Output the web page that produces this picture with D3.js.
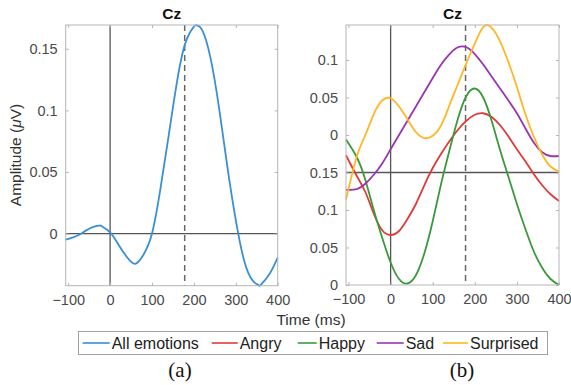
<!DOCTYPE html>
<html>
<head>
  <meta charset="utf-8">
  <title>Cz ERP by emotion</title>
  <style>
    body { margin: 0; background: white; }
    .tick-label { font-family: "Liberation Sans", Arial, sans-serif; font-size: 14.5px; fill: #4a4a4a; }
    .title { font-family: "Liberation Sans", Arial, sans-serif; font-size: 15.5px; font-weight: bold; fill: #111; text-anchor: middle; }
    .axis-label { font-family: "Liberation Sans", Arial, sans-serif; font-size: 15.5px; fill: #333; text-anchor: middle; }
    .legend-text { font-family: "Liberation Sans", Arial, sans-serif; font-size: 16px; fill: #222; }
    .panel-tag { font-family: "Liberation Serif", "Times New Roman", serif; font-size: 21px; fill: #111; text-anchor: middle; }
  </style>
  <script src="https://d3js.org/d3.v7.min.js"></script>
</head>
<body>
<div id="chart"></div>
<script>
// x ticks shared by both panels
const xTicks = [-100, 0, 100, 200, 300, 400];
const stimLine = 178;   // dashed marker (ms)

// panel (a): grand average
const leftTimes  = [-106, -80, -60, -40, -25, -20, 0, 20, 40, 60, 80, 100, 120, 140, 160, 180, 200, 206, 220, 240, 260, 280, 300, 320, 340, 355, 360, 380, 400];
const allEmotions = [-0.005, -0.002, 0.002, 0.0055, 0.0065, 0.006, 0.001, -0.009, -0.019, -0.0245, -0.017, 0.0, 0.036, 0.080, 0.124, 0.155, 0.168, 0.169, 0.165, 0.142, 0.102, 0.054, 0.011, -0.022, -0.038, -0.042, -0.0415, -0.033, -0.0195];
const leftYTicks = [0, 0.05, 0.1, 0.15];

// panel (b): per emotion
const rightTimes = [-106, -80, -60, -40, -20, 0, 20, 40, 60, 80, 100, 120, 140, 160, 180, 200, 220, 240, 260, 280, 300, 320, 340, 360, 380, 400];
const angry     = [0.173, 0.145, 0.124, 0.095, 0.073, 0.0667, 0.072, 0.088, 0.108, 0.133, 0.156, 0.175, 0.192, 0.207, 0.219, 0.227, 0.229, 0.224, 0.213, 0.198, 0.181, 0.165, 0.148, 0.133, 0.121, 0.112];
const happy     = [0.194, 0.170, 0.140, 0.100, 0.063, 0.030, 0.008, 0.002, 0.013, 0.042, 0.085, 0.135, 0.180, 0.222, 0.252, 0.262, 0.250, 0.219, 0.180, 0.144, 0.108, 0.075, 0.045, 0.023, 0.008, 0.0];
const sad       = [0.127, 0.128, 0.135, 0.147, 0.162, 0.181, 0.200, 0.219, 0.238, 0.257, 0.276, 0.294, 0.308, 0.317, 0.317, 0.308, 0.294, 0.278, 0.262, 0.246, 0.229, 0.209, 0.190, 0.177, 0.172, 0.172];
const surprised = [0.114, 0.172, 0.200, 0.228, 0.246, 0.249, 0.238, 0.221, 0.204, 0.196, 0.199, 0.213, 0.240, 0.268, 0.296, 0.322, 0.344, 0.343, 0.325, 0.297, 0.264, 0.228, 0.198, 0.174, 0.158, 0.151];
const rightYTicks  = [0, 0.05, 0.1, 0.15, 0.2, 0.25, 0.3];
const rightYLabels = ["0", "0.05", "0.1", "0.15", "0", "0.05", "0.1"];
const rightHLine = 0.15;

const seriesNames  = ["All emotions", "Angry", "Happy", "Sad", "Surprised"];
const seriesColors = ["#3a8fd6", "#e03a3a", "#3a9a3a", "#9a35b0", "#ffb726"];

const svg = d3.select("#chart").append("svg")
  .attr("width", 571).attr("height", 385)
  .style("background", "white");

function panel(opt) {
  const x = d3.scaleLinear().domain([-106, 400]).range([opt.left, opt.right]);
  const y = d3.scaleLinear().domain(opt.yDomain).range([opt.bottom, opt.top]);
  const g = svg.append("g");

  // zero/reference lines
  g.append("line").attr("x1", x(0)).attr("x2", x(0)).attr("y1", opt.top).attr("y2", opt.bottom)
    .attr("stroke", "#555").attr("stroke-width", 1.3);
  g.append("line").attr("x1", opt.left).attr("x2", opt.right).attr("y1", y(opt.hLine)).attr("y2", y(opt.hLine))
    .attr("stroke", "#555").attr("stroke-width", 1.3);
  g.append("line").attr("x1", x(stimLine)).attr("x2", x(stimLine)).attr("y1", opt.top).attr("y2", opt.bottom)
    .attr("stroke", "#666").attr("stroke-width", 1.5).attr("stroke-dasharray", "6,4");

  // curves
  const line = d3.line().x(d => x(d[0])).y(d => y(d[1])).curve(d3.curveNatural);
  opt.series.forEach(s => {
    g.append("path")
      .datum(opt.times.map((t, i) => [t, s.values[i]]))
      .attr("fill", "none").attr("stroke", s.color).attr("stroke-width", 1.8)
      .attr("d", line);
  });

  // box
  g.append("rect").attr("x", opt.left).attr("y", opt.top)
    .attr("width", opt.right - opt.left).attr("height", opt.bottom - opt.top)
    .attr("fill", "none").attr("stroke", "#b5b5b5").attr("stroke-width", 1);

  // axes with inward ticks on all sides
  const axB = d3.axisBottom(x).tickValues(xTicks).tickSizeInner(-3).tickSizeOuter(0).tickPadding(9);
  const axT = d3.axisTop(x).tickValues(xTicks).tickSizeInner(-3).tickSizeOuter(0).tickFormat("");
  const axL = d3.axisLeft(y).tickValues(opt.yTicks).tickSizeInner(-3).tickSizeOuter(0).tickPadding(8)
    .tickFormat((d, i) => opt.yLabels[i]);
  const axR = d3.axisRight(y).tickValues(opt.yTicks).tickSizeInner(-3).tickSizeOuter(0).tickFormat("");
  [[axB, `translate(0,${opt.bottom})`], [axT, `translate(0,${opt.top})`],
   [axL, `translate(${opt.left},0)`], [axR, `translate(${opt.right},0)`]].forEach(([ax, tr]) => {
    const a = g.append("g").attr("transform", tr).call(ax);
    a.select(".domain").remove();
    a.selectAll(".tick line").attr("stroke", "#b5b5b5");
    a.selectAll("text").attr("class", "tick-label").attr("font-family", null).attr("font-size", null).attr("fill", null);
  });

  svg.append("text").attr("class", "title")
    .attr("x", (opt.left + opt.right) / 2).attr("y", 19).text("Cz");
  svg.append("text").attr("class", "panel-tag")
    .attr("x", opt.tagX).attr("y", 377).text(opt.tag);
}

panel({
  left: 65.7, right: 277.7, top: 25, bottom: 285.7,
  yDomain: [-0.0423, 0.1693], hLine: 0,
  yTicks: leftYTicks, yLabels: leftYTicks.map(d => d3.format("")(d)),
  times: leftTimes,
  series: [{ values: allEmotions, color: seriesColors[0] }],
  tag: "(a)", tagX: 180
});

panel({
  left: 346, right: 559, top: 25, bottom: 285,
  yDomain: [0, 0.3467], hLine: rightHLine,
  yTicks: rightYTicks, yLabels: rightYLabels,
  times: rightTimes,
  series: [
    { values: angry, color: seriesColors[1] },
    { values: happy, color: seriesColors[2] },
    { values: sad, color: seriesColors[3] },
    { values: surprised, color: seriesColors[4] }
  ],
  tag: "(b)", tagX: 462
});

// y label
const yl = svg.append("text").attr("class", "axis-label")
  .attr("transform", "translate(21,155) rotate(-90)");
yl.append("tspan").text("Amplitude (");
yl.append("tspan").attr("font-style", "italic").text("\u03BC");
yl.append("tspan").text("V)");

// x label
svg.append("text").attr("class", "axis-label").attr("x", 311).attr("y", 325).text("Time (ms)");

// legend
svg.append("rect").attr("x", 78.5).attr("y", 331.5).attr("width", 469).attr("height", 23)
  .attr("fill", "white").attr("stroke", "#a0a0a0").attr("stroke-width", 1);
const legendX = [82.7, 211.7, 297.7, 376.7, 443];
const legendLen = [27, 26, 19, 27, 25];
seriesNames.forEach((name, i) => {
  svg.append("line").attr("x1", legendX[i]).attr("x2", legendX[i] + legendLen[i])
    .attr("y1", 343).attr("y2", 343).attr("stroke", seriesColors[i]).attr("stroke-width", 1.6);
  svg.append("text").attr("class", "legend-text")
    .attr("x", legendX[i] + legendLen[i] + 2).attr("y", 349).text(name);
});
</script>
</body>
</html>
